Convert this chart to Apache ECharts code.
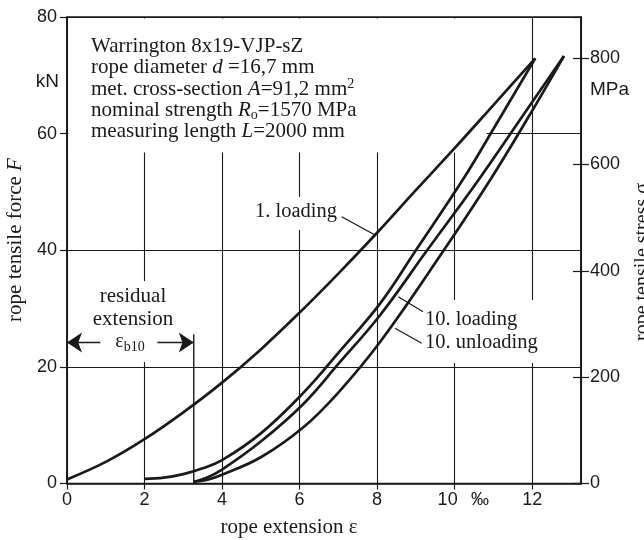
<!DOCTYPE html>
<html>
<head>
<meta charset="utf-8">
<script src="https://cdn.jsdelivr.net/npm/echarts@6/dist/echarts.min.js"></script>
<style>
html, body { margin: 0; padding: 0; background: #fff; }
#chart { width: 644px; height: 540px; }
</style>
</head>
<body>
<div id="chart"></div>
<script>
// rope extension in per mille, rope force in kN
const loading1 = [[0, 0.7], [1, 3.7], [2, 7.6], [3, 12.2], [4, 17.3], [5, 23], [6, 29.3], [7, 36],
    [8, 43], [9, 50.3], [10, 57.5], [11, 64.9], [12.08, 72.9]];
const unloading1 = [[12.08, 72.9], [11, 60.8], [10.23, 52.3], [9, 40], [8.08, 30.9], [7, 22.4],
    [6.09, 15.5], [5, 8.6], [4, 4.0], [3.5, 2.6], [3, 1.6], [2.5, 1.0], [2, 0.8]];
const loading10 = [[3.27, 0.3], [3.6, 1.0], [4, 2.4], [5, 7.2], [6.09, 13.6], [7, 20.5], [8.08, 28.9],
    [9.29, 40], [10.62, 52.1], [11.7, 62.5], [12.82, 73.3]];
const unloading10 = [[12.82, 73.3], [11.9, 62.8], [10.92, 52.1], [9.72, 40], [8.08, 24.3], [7, 15.6],
    [6.09, 9.6], [5, 4.5], [4, 1.5], [3.6, 0.6], [3.27, 0.3]];

const residual = 3.27;         // residual extension after 10 cycles
const residualMark = [[residual, 0], [residual, 25.6]];
const arrowY = 24.2;
const arrowGap = [0.86, 2.33]; // gap in the arrow line for the label
const areaA = 91.2;            // mm^2, F[kN] = sigma[MPa] * A / 1000
const xMax = 13.26, fMax = 80;

const ink = '#1a1a1a';
const sans = '"Liberation Sans", Arial, sans-serif';
const serif = '"Liberation Serif", "Times New Roman", serif';

let chart = echarts.init(document.getElementById('chart'));

function curve(data) {
    return {
        type: 'line', data: data, smooth: 0.4, showSymbol: false, symbol: 'none',
        lineStyle: { color: ink, width: 2.7 }, z: 3, silent: true
    };
}

// white patches that cut the grid behind the text
function patch(x, y, w, h) {
    return { type: 'rect', shape: { x: x, y: y, width: w, height: h }, style: { fill: '#fff' }, z: 1, silent: true };
}
function txt(x, y, text, opt) {
    opt = opt || {};
    return {
        type: 'text', x: x, y: y, rotation: opt.rotation || 0, z: 5, silent: true,
        style: {
            text: text, fill: ink, font: (opt.size || 21) + 'px ' + (opt.family || serif),
            align: opt.align || 'left', verticalAlign: 'middle',
            textAlign: opt.align || 'left', textVerticalAlign: 'middle',
            rich: opt.rich
        }
    };
}
function seg(x1, y1, x2, y2) {
    return { type: 'line', shape: { x1: x1, y1: y1, x2: x2, y2: y2 }, style: { stroke: ink, lineWidth: 1.3 }, z: 5, silent: true };
}

const italic = { i: { fontStyle: 'italic', fontSize: 21, fontFamily: 'Liberation Serif' } };

option = {
    backgroundColor: '#fff',
    animation: false,
    grid: {
        left: 67, right: 63, top: 17, bottom: 56.5,
        show: true, borderColor: ink, borderWidth: 1.6, backgroundColor: 'transparent'
    },
    xAxis: {
        type: 'value', min: 0, max: xMax, interval: 2,
        axisLine: { show: true, onZero: false, lineStyle: { color: ink, width: 1.6 } },
        axisTick: { show: true, length: 6, lineStyle: { color: ink, width: 1.2 } },
        axisLabel: {
            color: ink, fontSize: 18, fontFamily: 'Liberation Sans', margin: 8, showMaxLabel: false,
            formatter: function (v) { return v === 10 ? '{s|10}' : String(v); },
            rich: { s: { fontSize: 18, fontFamily: 'Liberation Sans', color: ink, padding: [0, 14, 0, 0] } }
        },
        splitLine: { show: true, lineStyle: { color: ink, width: 1.1 } }
    },
    yAxis: [{
        type: 'value', min: 0, max: fMax, interval: 20,
        axisLine: { show: true, lineStyle: { color: ink, width: 1.6 } },
        axisTick: { show: true, length: 7, lineStyle: { color: ink, width: 1.2 } },
        axisLabel: { color: ink, fontSize: 18, fontFamily: 'Liberation Sans', margin: 10 },
        splitLine: { show: true, lineStyle: { color: ink, width: 1.1 } }
    }, {
        type: 'value', position: 'right', min: 0, max: fMax * 1000 / areaA, interval: 200,
        axisLine: { show: true, lineStyle: { color: ink, width: 1.6 } },
        axisTick: { show: true, length: 8, lineStyle: { color: ink, width: 1.2 } },
        axisLabel: { color: ink, fontSize: 18, fontFamily: 'Liberation Sans', margin: 9, showMaxLabel: false },
        splitLine: { show: false }
    }, {
        type: 'value', position: 'right', min: 0, max: fMax * 1000 / areaA, interval: 200,
        axisLine: { show: false },
        axisTick: { show: true, inside: true, length: 8, lineStyle: { color: ink, width: 1.2 } },
        axisLabel: { show: false },
        splitLine: { show: false }
    }],
    series: [
        curve(loading1), curve(unloading1), curve(loading10), curve(unloading10),
        {
            type: 'line', data: residualMark, showSymbol: false, symbol: 'none', z: 3, silent: true,
            lineStyle: { color: ink, width: 1.4 }
        },
        {
            type: 'lines', coordinateSystem: 'cartesian2d', z: 3, silent: true,
            symbol: ['none', 'arrow'], symbolSize: [9, 15],
            lineStyle: { color: ink, width: 1.4, opacity: 1 },
            data: [
                { coords: [[arrowGap[0], arrowY], [0, arrowY]] },
                { coords: [[arrowGap[1], arrowY], [residual, arrowY]] }
            ]
        }
    ],
    graphic: [
        patch(68.5, 18.5, 418, 134),
        patch(252, 197, 90, 33),
        patch(421, 300, 120, 63),
        patch(84, 281, 104, 81),

        txt(91, 46.5, 'Warrington 8x19-VJP-sZ'),
        txt(91, 67.8, 'rope diameter {i|d} =16,7 mm', { rich: italic }),
        txt(91, 89.1, 'met. cross-section {i|A}=91,2 mm{sup|2}', {
            rich: { i: italic.i, sup: { fontSize: 14, fontFamily: 'Liberation Serif', verticalAlign: 'top', padding: [0, 0, 10, 0] } }
        }),
        txt(91, 110.4, 'nominal strength {i|R}{sub|o}=1570 MPa', {
            rich: { i: italic.i, sub: { fontSize: 14, fontFamily: 'Liberation Serif', padding: [10, 0, 0, 0] } }
        }),
        txt(91, 131.7, 'measuring length {i|L}=2000 mm', { rich: italic }),

        txt(59, 82, 'kN', { family: sans, size: 19, align: 'right' }),
        txt(590, 90, 'MPa', { family: sans, size: 19 }),
        txt(480, 500, '‰', { family: sans, size: 18, align: 'center' }),

        txt(15, 240, 'rope tensile force {i|F}', { rotation: Math.PI / 2, align: 'center', rich: italic }),
        txt(643, 262, 'rope tensile stress σ', { rotation: Math.PI / 2, align: 'center', size: 20 }),
        txt(289, 527, 'rope extension ε', { align: 'center' }),

        txt(255, 212, '1. loading', { size: 20.5 }),
        seg(341.7, 216.7, 375, 235),
        txt(425, 320, '10. loading', { size: 20.5 }),
        seg(423, 311.7, 398.3, 296.7),
        txt(425, 342.7, '10. unloading', { size: 20.5 }),
        seg(421.7, 343.3, 395, 328.3),

        txt(133, 296, 'residual', { align: 'center' }),
        txt(133, 319, 'extension', { align: 'center' }),
        txt(130, 342, 'ε{sub|b10}', {
            align: 'center', size: 20,
            rich: { sub: { fontSize: 14, fontFamily: 'Liberation Serif', padding: [10, 0, 0, 0] } }
        })
    ]
};
chart.setOption(option);
window.onresize = chart.resize;
</script>
</body>
</html>
